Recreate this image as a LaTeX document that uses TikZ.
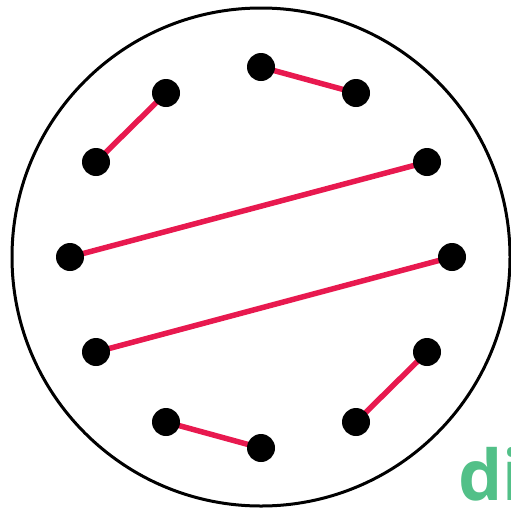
\documentclass[tikz,border=0pt]{standalone}
\usepackage{fontspec}
\newfontfamily\wmfont{Open Sans}
\definecolor{edgered}{HTML}{E8194F}
\definecolor{wmgreen}{HTML}{52C088}
\begin{document}
\begin{tikzpicture}[x=1pt,y=-1pt,
  dot/.style={circle,fill=black,inner sep=0pt,minimum size=28pt},
  chord/.style={edgered,line width=5.5pt}]
\useasboundingbox (0,0) rectangle (511,509);
\clip (0,0) rectangle (511,509);
\draw[line width=3pt] (261,257) circle (249);
\draw[chord] (166,93) -- (96,162);
\draw[chord] (261,67) -- (356,93);
\draw[chord] (427,162) -- (70,257);
\draw[chord] (452,257) -- (96,352);
\draw[chord] (427,352) -- (356,422);
\draw[chord] (166,422) -- (261,448);
\node[dot] (p0) at (261,67) {};
\node[dot] (p1) at (356,93) {};
\node[dot] (p2) at (427,162) {};
\node[dot] (p3) at (452,257) {};
\node[dot] (p4) at (427,352) {};
\node[dot] (p5) at (356,422) {};
\node[dot] (p6) at (261,448) {};
\node[dot] (p7) at (166,422) {};
\node[dot] (p8) at (96,352) {};
\node[dot] (p9) at (70,257) {};
\node[dot] (p10) at (96,162) {};
\node[dot] (p11) at (166,93) {};
\node[anchor=base west,inner sep=0pt,text=wmgreen,font=\wmfont\bfseries\fontsize{70}{70}\selectfont] (wm) at (458,500) {di};
\end{tikzpicture}
\end{document}
